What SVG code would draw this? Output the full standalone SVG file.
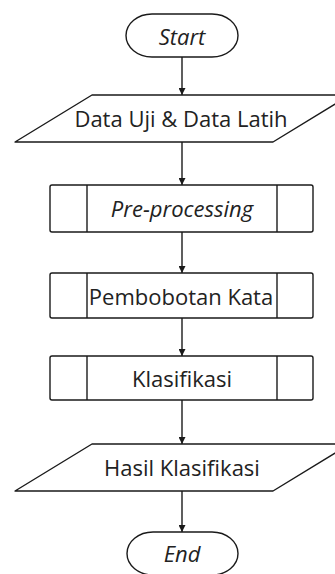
<svg xmlns="http://www.w3.org/2000/svg" width="335" height="574" viewBox="0 0 335 574">
<style>
.s{fill:#fff;stroke:#1a1a1a;stroke-width:1.4;stroke-linejoin:round}
.l{stroke:#1a1a1a;stroke-width:1.4;fill:none}
.t{font-family:"Open Sans","Noto Sans",sans-serif;font-size:22px;fill:#222;text-anchor:middle;dominant-baseline:central}
.i{font-style:italic}
</style>
<defs>
<marker id="ah" viewBox="0 0 8 8" refX="8" refY="4" markerWidth="7" markerHeight="7" markerUnits="userSpaceOnUse" orient="auto">
<path d="M0,0 L8,4 L0,8 Z" fill="#1a1a1a"/>
</marker>
</defs>
<rect width="335" height="574" fill="#fff"/>
<g id="connectors">
<line class="l" x1="182" y1="57" x2="182" y2="95" marker-end="url(#ah)"/>
<line class="l" x1="182" y1="142" x2="182" y2="185" marker-end="url(#ah)"/>
<line class="l" x1="182" y1="232" x2="182" y2="273" marker-end="url(#ah)"/>
<line class="l" x1="182" y1="318" x2="182" y2="356" marker-end="url(#ah)"/>
<line class="l" x1="182" y1="400" x2="182" y2="444" marker-end="url(#ah)"/>
<line class="l" x1="182" y1="491" x2="182" y2="532" marker-end="url(#ah)"/>
</g>
<g id="start">
<rect class="s" x="126" y="14" width="112" height="43" rx="26" ry="21.5"/>
<text class="t i" x="182" y="36">Start</text>
</g>
<g id="data">
<polygon class="s" points="92,95 350,95 273,142 15,142"/>
<text class="t" x="181" y="118">Data Uji &amp; Data Latih</text>
</g>
<g id="preprocessing">
<rect class="s" x="50" y="185" width="263" height="47" rx="2"/>
<line class="l" x1="87" y1="185" x2="87" y2="232"/>
<line class="l" x1="277" y1="185" x2="277" y2="232"/>
<text class="t i" x="182" y="208">Pre-processing</text>
</g>
<g id="pembobotan">
<rect class="s" x="50" y="273" width="263" height="45" rx="2"/>
<line class="l" x1="87" y1="273" x2="87" y2="318"/>
<line class="l" x1="277" y1="273" x2="277" y2="318"/>
<text class="t" x="181" y="296">Pembobotan Kata</text>
</g>
<g id="klasifikasi">
<rect class="s" x="50" y="356" width="263" height="44" rx="2"/>
<line class="l" x1="87" y1="356" x2="87" y2="400"/>
<line class="l" x1="277" y1="356" x2="277" y2="400"/>
<text class="t" x="182" y="378">Klasifikasi</text>
</g>
<g id="hasil">
<polygon class="s" points="92,444 350,444 273,491 15,491"/>
<text class="t" x="182" y="467">Hasil Klasifikasi</text>
</g>
<g id="end">
<rect class="s" x="127" y="532" width="111" height="43" rx="26" ry="21.5"/>
<text class="t i" x="182" y="553">End</text>
</g>
</svg>
